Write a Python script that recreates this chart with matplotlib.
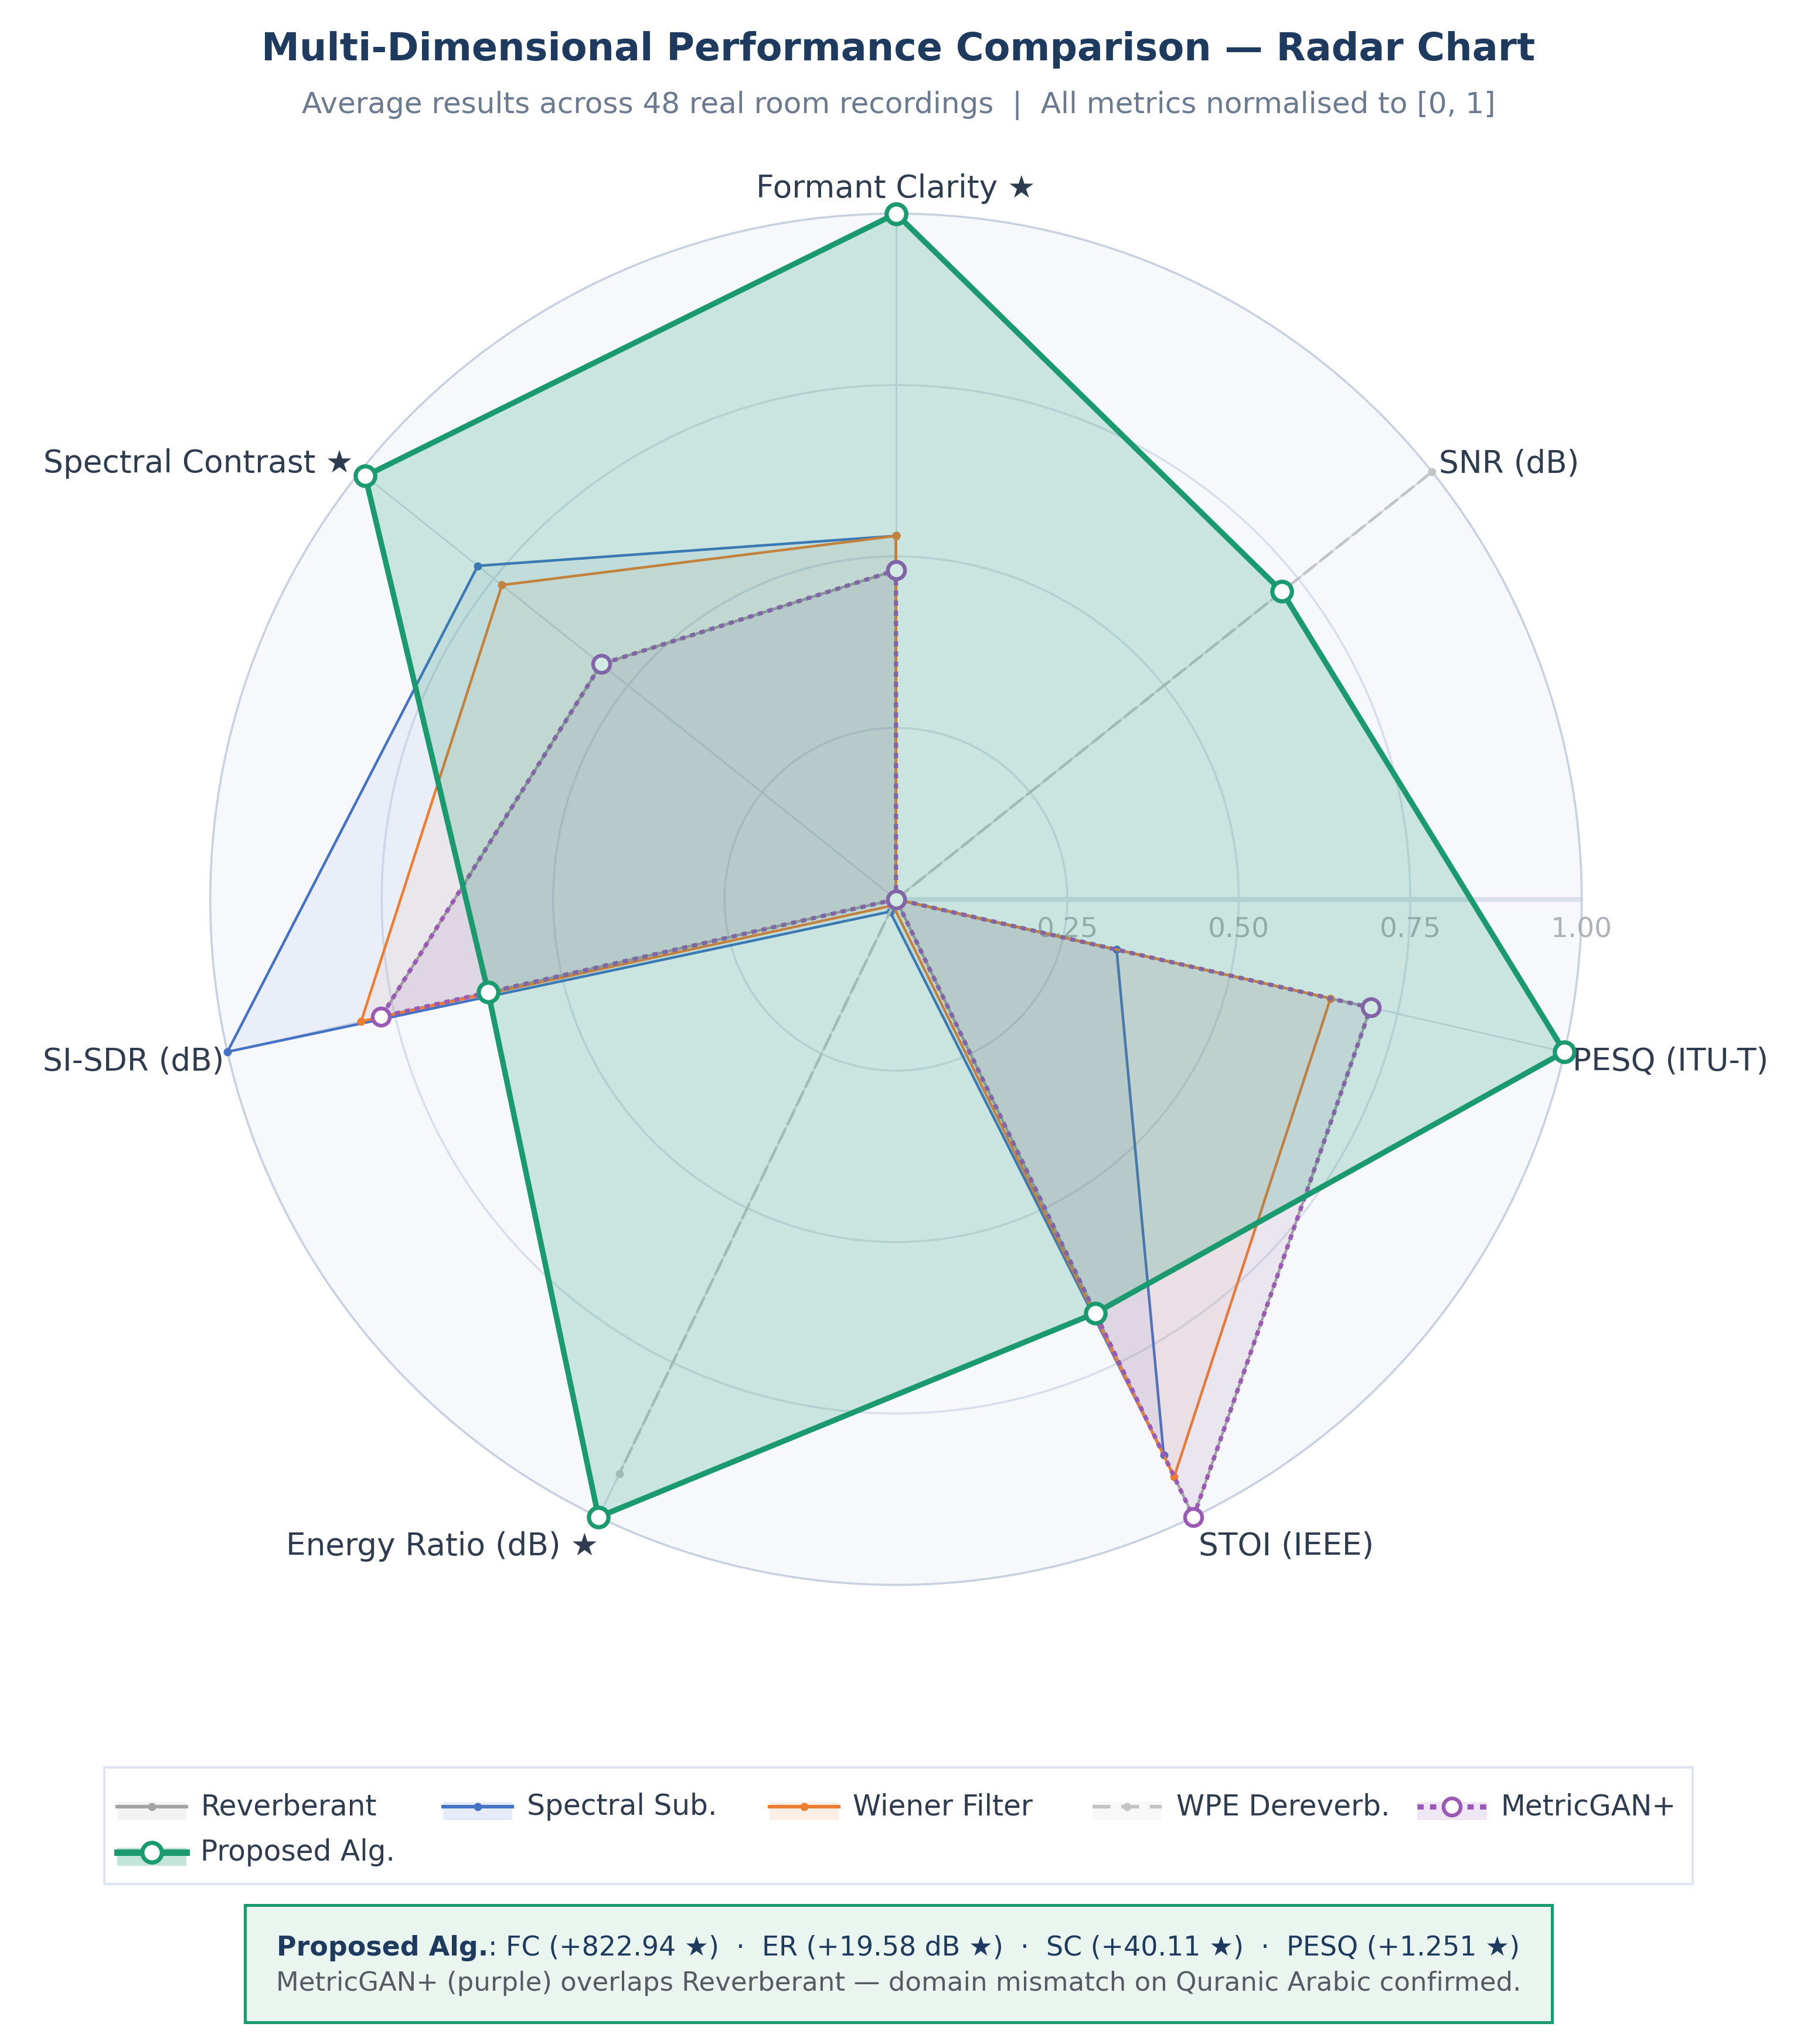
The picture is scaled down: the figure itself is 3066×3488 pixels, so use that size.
import numpy as np
import matplotlib.pyplot as plt
from matplotlib.lines import Line2D
from matplotlib.patches import Rectangle

plt.rcParams['font.family'] = ['DejaVu Sans']

# axes of the radar (clockwise from the top)
metrics = ["Formant Clarity ★", "SNR (dB)", "PESQ (ITU-T)", "STOI (IEEE)",
           "Energy Ratio (dB) ★", "SI-SDR (dB)", "Spectral Contrast ★"]

# normalised scores, same order as metrics
reverberant = [0.48, 0.0, 0.71, 1.0, 0.0, 0.77, 0.55]
spectral_sub = [0.53, 0.0, 0.33, 0.90, 0.02, 1.0, 0.78]
wiener = [0.53, 0.0, 0.65, 0.935, 0.01, 0.80, 0.735]
wpe = [0.0, 1.0, 0.0, 0.0, 0.93, 0.0, 0.0]
metricgan = [0.48, 0.0, 0.71, 1.0, 0.0, 0.77, 0.55]
proposed = [1.0, 0.72, 1.0, 0.67, 1.0, 0.61, 0.99]

radial_ticks = [0.25, 0.5, 0.75, 1.0]
radial_labels = ["0.25", "0.50", "0.75", "1.00"]

NAVY = "#1f3a5f"
LABEL = "#2f3b4e"
GREEN = "#1a9a6e"

# name, values, line style, fill colour, fill alpha
series = [
    ("Reverberant", reverberant,
     dict(color="#a3a3a3", lw=1.6, ls="-", marker="o", ms=4, mfc="#a3a3a3", mec="#a3a3a3"), "#9e9e9e", 0.06),
    ("Spectral Sub.", spectral_sub,
     dict(color="#4472c4", lw=1.6, ls="-", marker="o", ms=4, mfc="#4472c4", mec="#4472c4"), "#4472c4", 0.07),
    ("Wiener Filter", wiener,
     dict(color="#ed7d31", lw=1.6, ls="-", marker="o", ms=4, mfc="#ed7d31", mec="#ed7d31"), "#ed7d31", 0.06),
    ("WPE Dereverb.", wpe,
     dict(color="#c4c4c4", lw=1.6, ls=(0, (5, 3)), marker="o", ms=4, mfc="#c4c4c4", mec="#c4c4c4"), "#c4c4c4", 0.05),
    ("MetricGAN+", metricgan,
     dict(color="#9b59b6", lw=2.6, ls=(0, (1.2, 1.2)), marker="o", ms=10.5, mfc="white", mec="#9b59b6", mew=2.3), "#9b59b6", 0.08),
    ("Proposed Alg.", proposed,
     dict(color=GREEN, lw=3.4, ls="-", marker="o", ms=12, mfc="white", mec=GREEN, mew=2.6), GREEN, 0.20),
]

fig = plt.figure(figsize=(15.33, 17.44), dpi=200)
fig.patch.set_facecolor("white")

ax = fig.add_axes([0.117, 0.2246, 0.7632, 0.6709], projection="polar")
ax.set_facecolor("#f7f8fc")
n = len(metrics)
theta = np.pi / 2 - np.arange(n) * 2 * np.pi / n
theta_c = np.append(theta, theta[0])

ax.set_ylim(0, 1)
ax.set_xticks(np.mod(theta, 2 * np.pi))
ax.set_xticklabels([])
ax.set_yticks(radial_ticks[:-1])
ax.set_yticklabels([])
ax.xaxis.grid(True, color="#d3dae6", lw=1.0)
ax.yaxis.grid(True, color="#d9dfea", lw=1.3)
ax.spines["polar"].set_color("#c9d1e0")
ax.spines["polar"].set_linewidth(1.3)
ax.tick_params(axis="both", length=0)
ax.set_axisbelow(True)

# radial axis line along angle 0
ax.plot([0, 0], [0, 1], color="#d9e0ea", lw=3, zorder=1, solid_capstyle="butt")
for r, lab in zip(radial_ticks, radial_labels):
    ax.annotate(lab, xy=(0, r), xytext=(0, -19), textcoords="offset points",
                ha="center", va="center", fontsize=17, color="#adb1b8")

for i, (name, vals, st, fc, al) in enumerate(series):
    v = np.append(vals, vals[0])
    ax.fill(theta_c, v, color=fc, alpha=al, lw=0, zorder=2 + i)
    ax.plot(theta_c, v, clip_on=False, zorder=3 + i, **st)

# axis labels around the circle
label_pos = [(0, 6, "center", "bottom"), (4, 5, "left", "center"), (5, -6, "left", "center"),
             (3, -18, "left", "center"), (0, -18, "right", "center"), (-2, -6, "right", "center"),
             (-4, 5, "right", "center")]
for t, lab, (dx, dy, ha, va) in zip(theta, metrics, label_pos):
    ax.annotate(lab, xy=(t, 1.0), xytext=(dx, dy), textcoords="offset points",
                ha=ha, va=va, fontsize=19.2, color=LABEL, annotation_clip=False)

fig.text(0.5, 0.9755, "Multi-Dimensional Performance Comparison — Radar Chart",
         ha="center", va="center", fontsize=23.5, fontweight="bold", color=NAVY)
fig.text(0.5, 0.9485, "Average results across 48 real room recordings  |  All metrics normalised to [0, 1]",
         ha="center", va="center", fontsize=18, color="#6b7a8f")

# legend box, drawn by hand so the columns sit at even spacing like the original
fig.add_artist(Rectangle((0.0581, 0.0784), 0.8839, 0.0568, transform=fig.transFigure,
                         facecolor="white", edgecolor="#dfe5ee", lw=1.5))
col_x = [0.0653, 0.2467, 0.4282, 0.6081, 0.7888]
slots = [(col_x[0], 0.1161), (col_x[1], 0.1161), (col_x[2], 0.1161), (col_x[3], 0.1161),
         (col_x[4], 0.1161), (col_x[0], 0.0938)]
icon_w = 0.0385
for (name, vals, st, fc, al), (lx, ly) in zip(series, slots):
    fig.add_artist(Rectangle((lx, ly - 0.0067), icon_w, 0.0090, transform=fig.transFigure,
                             facecolor=fc, alpha=al + 0.06, lw=0))
    fig.add_artist(Line2D([lx, lx + icon_w], [ly, ly], transform=fig.transFigure,
                          color=st["color"], lw=st["lw"] + 0.6, ls=st["ls"]))
    fig.add_artist(Line2D([lx + icon_w / 2], [ly], transform=fig.transFigure,
                          ls="none", marker="o", ms=st["ms"], mfc=st["mfc"], mec=st["mec"],
                          mew=st.get("mew", 1.0)))
    fig.text(lx + 0.0464, ly, name, ha="left", va="center", fontsize=17.5, color=LABEL)

# annotation box
fig.patches.append(Rectangle((0.1363, 0.0106), 0.7273, 0.0573, transform=fig.transFigure,
                             facecolor="#ebf5ef", edgecolor=GREEN, lw=1.8, zorder=0))
renderer = fig.canvas.get_renderer()
part1 = "Proposed Alg."
part2 = ": FC (+822.94 ★)  ·  ER (+19.58 dB ★)  ·  SC (+40.11 ★)  ·  PESQ (+1.251 ★)"
t1 = fig.text(0, 0.047, part1, fontsize=16.5, fontweight="bold", color=NAVY, va="center")
t2 = fig.text(0, 0.047, part2, fontsize=16.5, color=NAVY, va="center")
w1 = t1.get_window_extent(renderer).width / fig.bbox.width
w2 = t2.get_window_extent(renderer).width / fig.bbox.width
x0 = 0.5 - (w1 + w2) / 2
t1.set_x(x0)
t2.set_x(x0 + w1)
fig.text(0.5, 0.0298, "MetricGAN+ (purple) overlaps Reverberant — domain mismatch on Quranic Arabic confirmed.",
         ha="center", va="center", fontsize=16.2, color="#555b63")

fig.savefig("out.png", dpi=200, facecolor="white")
